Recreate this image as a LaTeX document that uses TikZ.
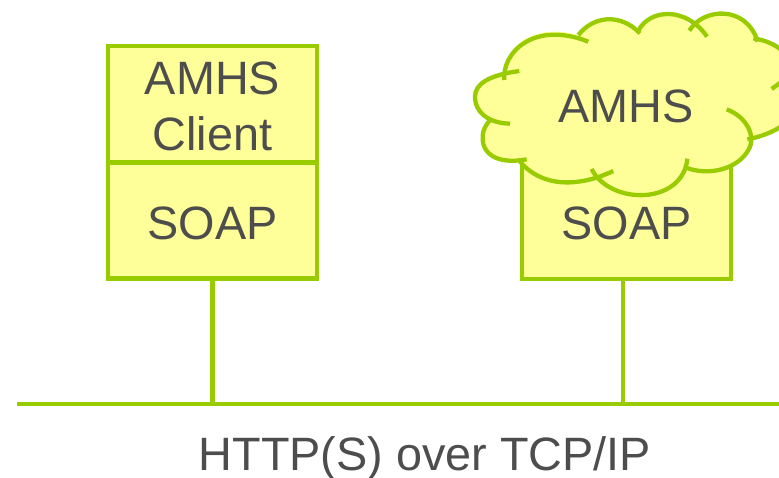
\documentclass[tikz,border=0pt]{standalone}
\usepackage{fontspec}
\setmainfont{Liberation Sans}
\definecolor{lineG}{HTML}{99CC00}
\definecolor{fillY}{HTML}{FFFF99}
\definecolor{textG}{HTML}{4D4D4D}
\tikzset{
  every node/.style={text=textG,font=\fontsize{46.8}{56}\selectfont,inner sep=0pt},
  stackbox/.style={draw=lineG,fill=fillY,line width=4.4pt,minimum width=209pt,minimum height=116pt,align=center},
  wire/.style={draw=lineG,line width=4.8pt},
  cloudline/.style={draw=lineG,line width=4.3pt,line cap=butt}
}
\begin{document}
\begin{tikzpicture}[x=1pt,y=-1pt]
\useasboundingbox (0,0) rectangle (779,477);
\clip (0,0) rectangle (779,477);
% bus
\coordinate (busL) at (17,404);
\coordinate (busR) at (779,404);
\coordinate (tapA) at (212.5,404);
\coordinate (tapB) at (623,404);
% boxes
\node[stackbox,text height=92pt,text depth=0pt] (client) at (212.5,104) {AMHS\\Client};
\node[stackbox,text height=37pt,text depth=0pt] (soapA) at (212.5,220.5) {SOAP};
\node[stackbox,text height=37pt,text depth=0pt] (soapB) at (626.5,221) {SOAP};
% connectors
\draw[wire] (busL) -- (busR);
\draw[wire] (soapA.south) -- (tapA);
\draw[wire] (tapB |- soapB.south) -- (tapB);
% cloud
\begin{scope}[x=1pt/3,y=-1pt/3,shift={(460pt,0pt)}]
\fill[fillY] (130,225) .. controls (130,150) and (210,65) .. (355,105)
  .. controls (400,48) and (480,38) .. (538,90)
  .. controls (570,25) and (660,20) .. (695,85)
  .. controls (730,22) and (860,15) .. (890,115)
  .. controls (950,125) and (1010,170) .. (1030,260)
  .. controls (1040,340) and (960,400) .. (870,418)
  .. controls (875,460) and (810,525) .. (680,505)
  .. controls (650,585) and (480,630) .. (400,525)
  .. controls (330,565) and (230,550) .. (180,485)
  .. controls (110,490) and (65,460) .. (68,410)
  .. controls (68,385) and (85,365) .. (95,355)
  .. controls (55,340) and (45,310) .. (45,290)
  .. controls (45,250) and (90,225) .. (130,225) -- cycle;
\path[cloudline]
  (133,240) .. controls (125,160) and (220,60) .. (385,125)
  (355,105) .. controls (400,48) and (480,38) .. (540,100)
  (535,92) .. controls (570,25) and (680,20) .. (741,110)
  (688,92) .. controls (730,22) and (860,15) .. (893,125)
  (880,115) .. controls (950,125) and (1010,170) .. (1030,260)
  .. controls (1040,340) and (960,400) .. (862,418)
  (935,267) -- (1000,220)
  (800,328) .. controls (860,350) and (890,410) .. (865,450)
  .. controls (835,505) and (750,530) .. (678,503)
  (682,476) .. controls (675,555) and (600,590) .. (530,585)
  .. controls (470,582) and (415,550) .. (395,507)
  (460,513) .. controls (350,565) and (240,560) .. (178,482)
  (200,478) .. controls (110,495) and (65,460) .. (68,410)
  .. controls (68,385) and (85,365) .. (95,355)
  (150,371) .. controls (90,370) and (45,340) .. (45,290)
  .. controls (45,250) and (90,225) .. (178,213);
\end{scope}
\node[anchor=base] (amhsB) at (626,122) {AMHS};
\node[anchor=base] (proto) at (425,470) {HTTP(S) over TCP/IP};
\end{tikzpicture}
\end{document}
